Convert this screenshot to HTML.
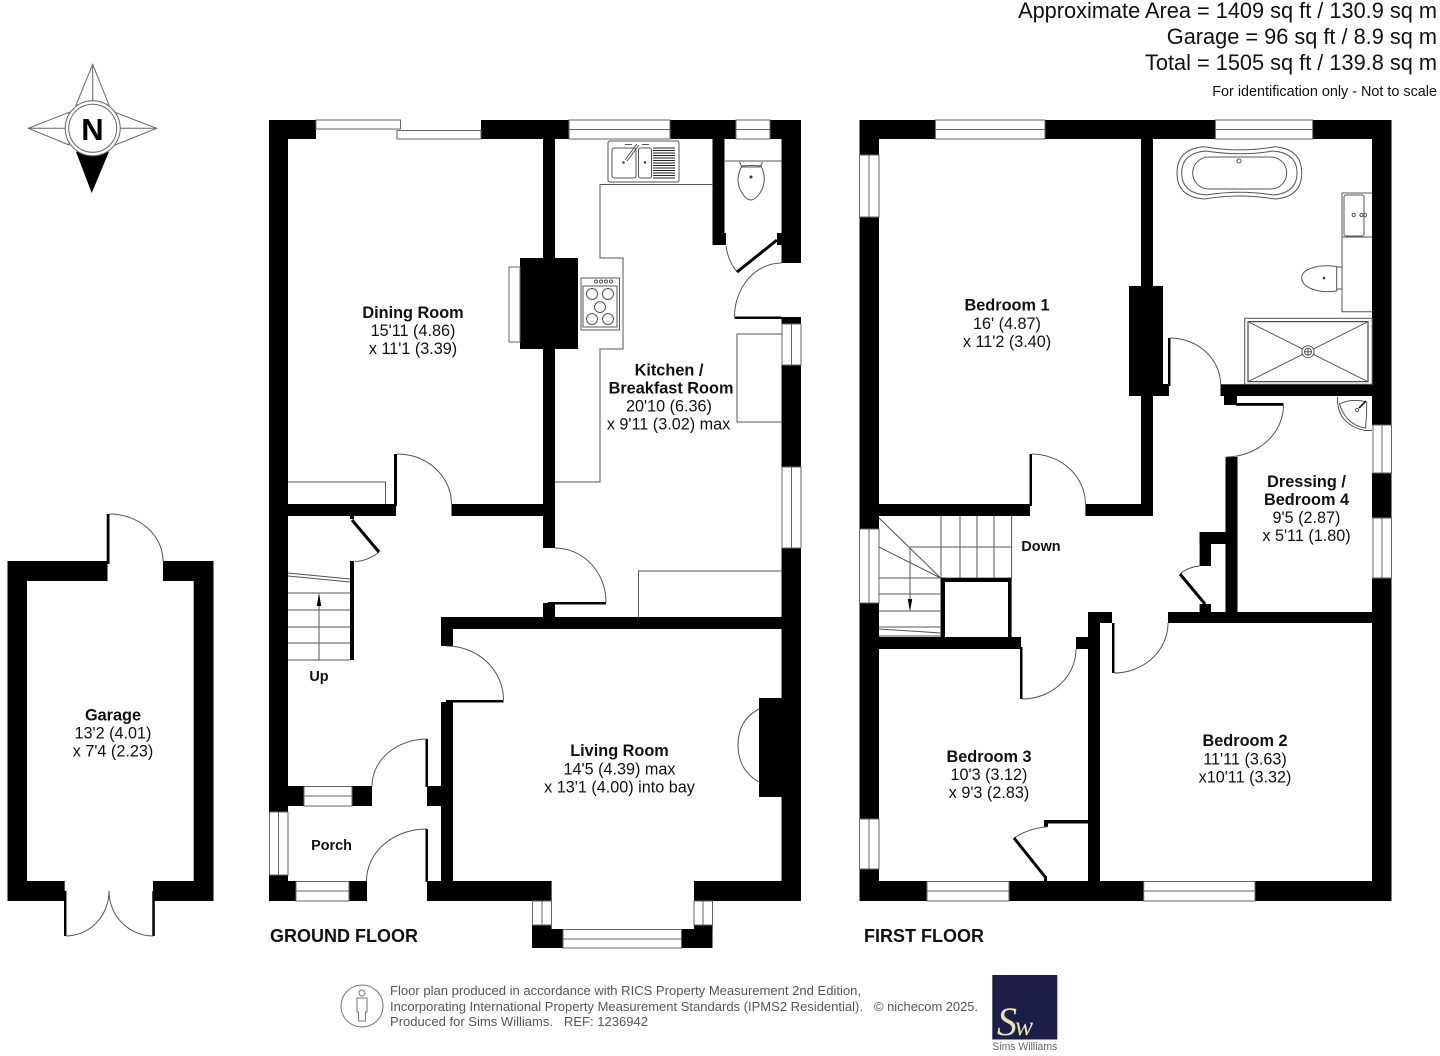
<!DOCTYPE html>
<html lang="en"><head><meta charset="utf-8"><title>Floor plan</title>
<style>
html,body{margin:0;padding:0;background:#fff}
svg{display:block}
text{font-family:"Liberation Sans",sans-serif;fill:#111}
.b{font-weight:700;font-size:16.3px;text-anchor:middle}
.r{font-size:16.2px;text-anchor:middle}
.s{font-weight:700;font-size:14.4px;text-anchor:middle}
.h{font-size:21.75px;text-anchor:end}
.f{font-size:12.6px;fill:#555}
.k rect{fill:#000}
.l{fill:none;stroke:#555;stroke-width:1}
.w{fill:#fff;stroke:#666;stroke-width:1}
.t{fill:none;stroke:#000;stroke-width:3}
</style></head><body>
<svg xmlns="http://www.w3.org/2000/svg" width="1440" height="1056" viewBox="0 0 1440 1056">
<rect width="1440" height="1056" fill="#fff"/>

<!-- header -->
<text class="h" x="1437" y="18">Approximate Area = 1409 sq ft / 130.9 sq m</text>
<text class="h" x="1437" y="44">Garage = 96 sq ft / 8.9 sq m</text>
<text class="h" x="1437" y="70">Total = 1505 sq ft / 139.8 sq m</text>
<text x="1437" y="96" font-size="14.4" text-anchor="end">For identification only - Not to scale</text>

<!-- compass -->
<path d="M76 151.700L109 151.700L91.700 193Z" fill="#000"/>
<g fill="#fff" stroke="#666" stroke-width="1">
<path d="M76 105L92.700 64.300L109 105Z"/>
<path d="M69 112.300L28.300 128.300L69 145Z"/>
<path d="M115 112.300L156.700 128.300L115 145Z"/>
<path d="M92.700 64.300V101M28.300 128.300H65M156.700 128.300H120" fill="none"/>
<circle cx="92.700" cy="128.300" r="27.500"/>
<circle cx="92.700" cy="128.300" r="24"/>
</g>
<text x="92.500" y="140" font-size="31" font-weight="700" text-anchor="middle" style="fill:#000">N</text>

<!-- GROUND FLOOR walls -->
<g class="k">
<rect x="269" y="120" width="47" height="19"/>
<rect x="481" y="120" width="88" height="19"/>
<rect x="670" y="120" width="66" height="19"/>
<rect x="770" y="120" width="31" height="19"/>
<rect x="269" y="120" width="19" height="692"/>
<rect x="269" y="875" width="19" height="26"/>
<rect x="288" y="881" width="8" height="20"/>
<rect x="349" y="881" width="18" height="20"/>
<rect x="288" y="786" width="16" height="20"/>
<rect x="352" y="786" width="20" height="20"/>
<rect x="427" y="786" width="14" height="20"/>
<rect x="543" y="120" width="12" height="428"/>
<rect x="520" y="258" width="58" height="91"/>
<rect x="288" y="504" width="108" height="12"/>
<rect x="451.500" y="504" width="91.500" height="12"/>
<rect x="394" y="454" width="3" height="52"/>
<rect x="781.500" y="120" width="19.500" height="143"/>
<rect x="781.500" y="317" width="19.500" height="7"/>
<rect x="734.500" y="316.500" width="47" height="2.500"/>
<rect x="781.500" y="365" width="19.500" height="102"/>
<rect x="781.500" y="548" width="19.500" height="353"/>
<rect x="712.500" y="120" width="12" height="125"/>
<rect x="724" y="233" width="2" height="12"/>
<rect x="777" y="233" width="5" height="12"/>
<rect x="441" y="617" width="341" height="12"/>
<rect x="441" y="617" width="12" height="29"/>
<rect x="543" y="603" width="12" height="15"/>
<rect x="548" y="602" width="58" height="2.500"/>
<rect x="446" y="700" width="57.500" height="2.500"/>
<rect x="441" y="702" width="12" height="180"/>
<rect x="427" y="881" width="124.600" height="20"/>
<rect x="694" y="881" width="107" height="20"/>
<rect x="425.500" y="739" width="2.500" height="48"/>
<rect x="425.500" y="829" width="2.500" height="53"/>
<rect x="759" y="698" width="24" height="99"/>
<rect x="532" y="925" width="19.600" height="23"/>
<rect x="551" y="929" width="12" height="19"/>
<rect x="681.500" y="929" width="31" height="19"/>
<rect x="694" y="925" width="18.600" height="5"/>
<rect x="350" y="561" width="4" height="99"/>
<rect x="350" y="516" width="4" height="3"/>
</g>

<!-- ground windows -->
<g class="w">
<rect x="316" y="120" width="84.500" height="9"/>
<rect x="397" y="130.500" width="84" height="8.500"/>
<rect x="569" y="120" width="101" height="19"/><path d="M569 129.500H670"/>
<rect x="736" y="120" width="34" height="19"/><path d="M736 129.500H770"/>
<rect x="782" y="324" width="19" height="41"/><path d="M791.500 324V365"/>
<rect x="782" y="467" width="19" height="81"/><path d="M791.500 467V548"/>
<rect x="269.500" y="812" width="18.500" height="63"/><path d="M278.500 812V875"/>
<rect x="304" y="786.500" width="48" height="19.500"/><path d="M304 796H352"/>
<rect x="296" y="881.500" width="53" height="19.500"/><path d="M296 891H349"/>
<rect x="532.500" y="901" width="19" height="24"/><path d="M542 901V925"/>
<rect x="694" y="901" width="18.500" height="24"/><path d="M703 901V925"/>
<rect x="563" y="929.500" width="118.500" height="18.500"/><path d="M563 939H681.500"/>
<rect x="509" y="267" width="11" height="75"/>
</g>

<!-- ground doors arcs -->
<g class="l">
<path d="M397 454A54 50 0 0 1 451.500 504"/>
<path d="M734.500 317A47 54 0 0 1 781.500 263"/>
<path d="M726 246Q728 261 737 272"/>
<path d="M555 548A51 54 0 0 1 606 602"/>
<path d="M446 646A57 54 0 0 1 503.500 700"/>
<path d="M372 786A55 47 0 0 1 427 739"/>
<path d="M366.500 881A60 52 0 0 1 427 829"/>
<path d="M759 709Q738 720 738 745Q738 770 759 782"/>
<path d="M379 552Q368 561 355 561.500"/>
<!-- worktops -->
<path d="M713 184.500H600V258H623V349H600V482H555"/>
<path d="M737 422V334H782M737 422H782"/>
<path d="M638.500 617V571H782"/>
<path d="M288 482H385.500V504"/>
<!-- WC -->
<path d="M725 161H782"/>
<path d="M739.500 162L742 167H760L762.500 162"/>
<path d="M742 166Q752 165 761 166Q768 180 760 193Q755 200 751 200Q746 200 742 193Q734 180 742 166Z"/>
<!-- sink -->
<rect x="608" y="141" width="71" height="41" rx="2"/>
<rect x="612" y="148" width="24" height="30" rx="2"/>
<rect x="638.500" y="148" width="13" height="30" rx="2"/>
<path d="M653 148H675M653 150.500H675M653 153H675M653 155.500H675M653 158H675M653 160.500H675M653 163H675M653 165.500H675M653 168H675M653 170.500H675M653 173H675M653 175.500H675M653 178H675" stroke="#222"/>
<path d="M625 160L637 144M627 161L639 145"/>
<path d="M625 144.500H632M642 144.500H649"/>
<!-- cooker -->
<rect x="581" y="278" width="38.500" height="52"/>
<rect x="583" y="286" width="34" height="41"/>
<circle cx="592" cy="294" r="5.500"/><circle cx="608" cy="294" r="5.500"/><circle cx="600" cy="307" r="5.500"/><circle cx="592" cy="319" r="5.500"/><circle cx="608" cy="319" r="5.500"/>
<circle cx="596" cy="281.500" r="1.500"/><circle cx="601" cy="281.500" r="1.500"/><circle cx="606" cy="281.500" r="1.500"/><circle cx="611" cy="281.500" r="1.500"/>
<!-- stairs -->
<path d="M288 593H350M288 610H350M288 627H350M288 643H350M288 660H350"/>
<path d="M288 573L350 579M288 576L350 582"/>
<path d="M319 660V595"/>
</g>
<circle cx="751" cy="177" r="1.500" fill="#333"/>
<circle cx="623.500" cy="162.500" r="1.200" fill="#333"/><circle cx="645" cy="162.500" r="1.200" fill="#333"/>
<path d="M319 593L316.800 606H321.200Z" fill="#000"/>
<path class="t" d="M777 240L737 272"/>
<path class="t" d="M352 520L379 552"/>

<!-- ground labels -->
<text class="b" x="413" y="318">Dining Room</text>
<text class="r" x="413" y="336">15'11 (4.86)</text>
<text class="r" x="413" y="354">x 11'1 (3.39)</text>
<text class="b" x="669" y="375.500">Kitchen /</text>
<text class="b" x="671" y="393.500">Breakfast Room</text>
<text class="r" x="669" y="411.500">20'10 (6.36)</text>
<text class="r" x="668.500" y="429.500">x 9'11 (3.02) max</text>
<text class="b" x="619.500" y="756">Living Room</text>
<text class="r" x="619.500" y="774.500">14'5 (4.39) max</text>
<text class="r" x="619.500" y="792.500">x 13'1 (4.00) into bay</text>
<text class="s" x="331.500" y="850">Porch</text>
<text class="s" x="319" y="681">Up</text>
<text x="270" y="942" font-size="18" font-weight="700">GROUND FLOOR</text>

<!-- FIRST FLOOR walls -->
<g class="k">
<rect x="859.500" y="120" width="76" height="19"/>
<rect x="1045" y="120" width="170.500" height="19"/>
<rect x="1312.700" y="120" width="78.800" height="19"/>
<rect x="859.500" y="120" width="19.500" height="35"/>
<rect x="859.500" y="217" width="19.500" height="312"/>
<rect x="859.500" y="603" width="19.500" height="216"/>
<rect x="859.500" y="869" width="19.500" height="32"/>
<rect x="1372" y="120" width="19.500" height="305"/>
<rect x="1372" y="473" width="19.500" height="45"/>
<rect x="1372" y="578" width="19.500" height="323"/>
<rect x="859.500" y="881" width="67.500" height="20"/>
<rect x="1009" y="881" width="134.700" height="20"/>
<rect x="1255" y="881" width="136.500" height="20"/>
<rect x="1141" y="120" width="12" height="396"/>
<rect x="1129" y="286" width="34" height="110"/>
<rect x="1160" y="384" width="9" height="12"/>
<rect x="1168" y="338" width="2.500" height="48"/>
<rect x="1220.500" y="384.300" width="152" height="11.700"/>
<rect x="1224" y="396" width="13" height="9"/>
<rect x="1236" y="403" width="47.500" height="2.800"/>
<rect x="1225.500" y="457" width="12" height="166"/>
<rect x="879" y="504" width="151" height="12"/>
<rect x="1029.500" y="454" width="2.500" height="52"/>
<rect x="1085.400" y="504" width="67.600" height="12"/>
<rect x="879" y="637" width="142" height="12"/>
<rect x="940.600" y="577.700" width="71" height="4.300"/>
<rect x="940.600" y="577.700" width="4.400" height="60"/>
<rect x="1008" y="577.700" width="3.600" height="60"/>
<rect x="1020" y="647" width="2.500" height="52"/>
<rect x="1076" y="637" width="12" height="12"/>
<rect x="1088" y="612" width="12" height="289"/>
<rect x="1088" y="612" width="24" height="11"/>
<rect x="1112" y="623" width="2.500" height="50"/>
<rect x="1168" y="612" width="204.500" height="11"/>
<rect x="1199.600" y="532" width="26" height="12"/>
<rect x="1199.600" y="532" width="11.400" height="34"/>
<rect x="1199.600" y="604" width="11.400" height="8"/>
<rect x="1044" y="820" width="44" height="3.500"/>
<rect x="1044" y="820" width="4" height="7"/>
<rect x="1044" y="876" width="3" height="5"/>
</g>

<!-- first windows -->
<g class="w">
<rect x="935.400" y="120" width="109.600" height="19"/><path d="M935.400 129.500H1045"/>
<rect x="1215.400" y="120" width="97.300" height="19"/><path d="M1215.400 129.500H1312.700"/>
<rect x="859.500" y="155" width="19.500" height="62"/><path d="M869 155V217"/>
<rect x="859.500" y="529" width="19.500" height="74"/><path d="M869 529V603"/>
<rect x="859.500" y="819" width="19.500" height="50"/><path d="M869 819V869"/>
<rect x="1373" y="425" width="18.500" height="48"/><path d="M1382 425V473"/>
<rect x="1373" y="518" width="18.500" height="60"/><path d="M1382 518V578"/>
<rect x="927" y="881.500" width="82" height="19.500"/><path d="M927 891H1009"/>
<rect x="1143.700" y="881.500" width="111.300" height="19.500"/><path d="M1143.700 891H1255"/>
</g>

<!-- first detail lines -->
<g class="l">
<path d="M1170 338A51 47 0 0 1 1220.700 385"/>
<path d="M1283.500 405A58 52 0 0 1 1226 457"/>
<path d="M1032 454A54 50 0 0 1 1085.400 504"/>
<path d="M1022 699A54 50 0 0 0 1076 649"/>
<path d="M1114 673A54 50 0 0 0 1168 623"/>
<path d="M1199.600 566Q1188 567 1180 574"/>
<path d="M1048 826.700Q1029 828 1014 838"/>
<!-- tub -->
<path d="M1204 146.700Q1240 153 1275 146.700Q1301.700 149 1301.700 173Q1301.700 197 1275 199Q1240 193 1204 199Q1177 197 1177 173Q1177 149 1204 146.700Z"/>
<path d="M1206 151Q1240 156.500 1273 151Q1297 153 1297 173Q1297 193 1273 195Q1240 189.500 1206 195Q1181.700 193 1181.700 173Q1181.700 153 1206 151Z"/>
<rect x="1192.700" y="157" width="94" height="32" rx="16"/>
<circle cx="1239" cy="161" r="2"/>
<!-- basin -->
<path d="M1372 193H1342V311.700H1372"/>
<path d="M1342 237H1372"/>
<rect x="1344" y="195" width="20" height="41" rx="2"/>
<circle cx="1353.700" cy="215" r="1.600"/><circle cx="1365" cy="215" r="1.600"/><circle cx="1361.500" cy="215" r="1.600"/>
<!-- toilet -->
<path d="M1336.700 266.500V291Q1322 293 1312 289Q1301.700 285 1301.700 278Q1301.700 271 1312 268Q1322 264.500 1336.700 266.500Z"/>
<path d="M1336.700 267H1342M1336.700 289H1342"/>
<!-- shower -->
<rect x="1244.700" y="318.300" width="127.500" height="66"/>
<rect x="1248" y="321.700" width="120" height="60" stroke="#222"/>
<path d="M1248 321.700L1368 381.700M1368 321.700L1248 381.700"/>
<circle cx="1308" cy="351.700" r="6" fill="#fff"/><circle cx="1308" cy="351.700" r="3.500"/><path d="M1304.500 351.700H1311.500M1308 348.200V355.200"/>
<!-- corner sink -->
<path d="M1337.700 396.700Q1336 424 1365 430.500H1372"/>
<path d="M1339.500 404Q1352 398 1366.700 402Q1367 415 1365.500 428Q1346 425 1339.500 404Z"/>
<circle cx="1357" cy="410" r="1.600"/>
<path d="M1359 408L1366 401" stroke="#000" stroke-width="1.500"/>
<!-- stairs -->
<path d="M941 516V578M960 516V578M977 516V578M994 516V578M1011.600 516V578"/>
<path d="M910 547H1011.600"/>
<path d="M879 578H941M879 594H941M879 611H941M879 627H941M879 636H941"/>
<path d="M879 518L940.600 578M879 547L940.600 578"/>
<path d="M910 547V600"/>
<path d="M879 629L941 633"/>
</g>
<circle cx="1324" cy="278" r="1.300" fill="#333"/>
<path d="M910 611.500L907.800 599H912.200Z" fill="#000"/>
<path class="t" d="M1180 574L1205 604"/>
<path class="t" d="M1014 838L1046 878"/>

<!-- first labels -->
<text class="b" x="1007" y="310.500">Bedroom 1</text>
<text class="r" x="1007" y="329">16' (4.87)</text>
<text class="r" x="1007" y="347">x 11'2 (3.40)</text>
<text class="b" x="989" y="762">Bedroom 3</text>
<text class="r" x="989" y="780">10'3 (3.12)</text>
<text class="r" x="989" y="798">x 9'3 (2.83)</text>
<text class="b" x="1245" y="746">Bedroom 2</text>
<text class="r" x="1245" y="764.500">11'11 (3.63)</text>
<text class="r" x="1245" y="782.500">x10'11 (3.32)</text>
<text class="b" x="1306.500" y="487">Dressing /</text>
<text class="b" x="1306.500" y="505">Bedroom 4</text>
<text class="r" x="1306.500" y="523">9'5 (2.87)</text>
<text class="r" x="1306.500" y="541">x 5'11 (1.80)</text>
<text class="s" x="1041" y="551">Down</text>
<text x="864" y="942" font-size="18" font-weight="700">FIRST FLOOR</text>

<!-- GARAGE -->
<g class="k">
<rect x="7.500" y="561" width="100" height="20"/>
<rect x="163" y="561" width="50.500" height="20"/>
<rect x="7.500" y="561" width="19.500" height="340"/>
<rect x="193.700" y="561" width="19.800" height="340"/>
<rect x="7.500" y="881" width="57.200" height="20"/>
<rect x="153" y="881" width="60.500" height="20"/>
<rect x="106.700" y="514" width="2.800" height="50"/>
<rect x="64" y="891" width="2.500" height="45"/>
<rect x="152.300" y="891" width="2.500" height="45"/>
</g>
<g class="l">
<path d="M109.500 514A53.500 47 0 0 1 163 561"/>
<path d="M66 936A43 45 0 0 0 109 891"/>
<path d="M153 936A44 45 0 0 1 109 891"/>
</g>
<text class="b" x="113" y="720.500">Garage</text>
<text class="r" x="113" y="738.500">13'2 (4.01)</text>
<text class="r" x="113" y="756.500">x 7'4 (2.23)</text>

<!-- footer -->
<g fill="none" stroke="#777" stroke-width="1">
<circle cx="362" cy="1006" r="21"/>
<circle cx="362" cy="993" r="3"/>
<path d="M357 998H367V1012H365.500V1021H358.500V1012H357Z"/>
</g>
<text class="f" x="390" y="995" textLength="471" lengthAdjust="spacingAndGlyphs">Floor plan produced in accordance with RICS Property Measurement 2nd Edition,</text>
<text class="f" x="390" y="1011" textLength="473" lengthAdjust="spacingAndGlyphs">Incorporating International Property Measurement Standards (IPMS2 Residential).</text>
<text class="f" x="874" y="1011" textLength="104" lengthAdjust="spacingAndGlyphs">© nichecom 2025.</text>
<text class="f" x="390" y="1026" textLength="258" lengthAdjust="spacingAndGlyphs" xml:space="preserve">Produced for Sims Williams.   REF: 1236942</text>
<rect x="992.300" y="975" width="65" height="64.500" fill="#1b1f47"/>
<text x="997" y="1035" font-size="40" font-style="italic" style="font-family:'Liberation Serif',serif;fill:#e8e3b5">S<tspan font-size="27" dx="-2">w</tspan></text>
<text x="992.300" y="1050" font-size="11" style="fill:#666" textLength="65" lengthAdjust="spacingAndGlyphs">Sims Williams</text>
</svg>
</body></html>
